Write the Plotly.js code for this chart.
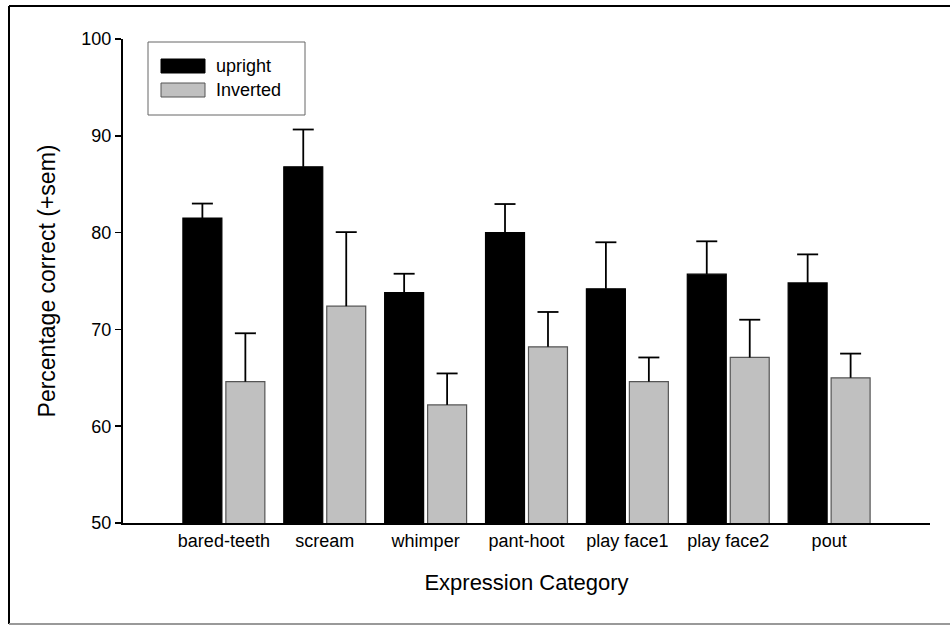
<!DOCTYPE html>
<html>
<head>
<meta charset="utf-8">
<script src="https://cdn.plot.ly/plotly-3.0.1.min.js"></script>
<style>
  html, body { margin: 0; padding: 0; background: #ffffff; }
  #chart { width: 950px; height: 626px; }
</style>
</head>
<body>
<div id="chart"></div>
<script>
// ---- data ----
var categories = ["bared-teeth", "scream", "whimper", "pant-hoot", "play face1", "play face2", "pout"];
var seriesNames = ["upright", "Inverted"];
var upright = [81.5, 86.8, 73.8, 80.0, 74.2, 75.7, 74.8];
var uprightSem = [1.5, 3.85, 1.95, 2.95, 4.8, 3.4, 2.95];
var inverted = [64.6, 72.4, 62.2, 68.2, 64.6, 67.1, 65.0];
var invertedSem = [5.0, 7.65, 3.25, 3.6, 2.5, 3.9, 2.5];
var yTicks = [50, 60, 70, 80, 90, 100];

// ---- layout geometry (pixels) ----
var W = 950, H = 626;
var M = {l: 123, r: 20, t: 39, b: 103};
var pw = W - M.l - M.r, ph = H - M.t - M.b;
function px(x) { return (x - M.l) / pw; }
function py(y) { return (H - M.b - y) / ph; }

var FONT = "Liberation Sans, Arial, Helvetica, sans-serif";
var colors = ["#000000", "#c0c0c0"];
var outlines = ["#000000", "#555555"];
var BARGAP = 0.148, BARGROUPGAP = 0.093;
var nSeries = 2;
var slot = (1 - BARGAP) / nSeries;
var idx = categories.map(function (_, i) { return i; });

function barTrace(i, vals) {
  return {
    type: "bar",
    name: seriesNames[i],
    x: idx,
    y: vals,
    marker: {color: colors[i], line: {color: outlines[i], width: 1.2}},
    showlegend: false,
    hoverinfo: "y"
  };
}

// upward-only error bars (+sem), positioned at the bar centres of each group
function errTraces(i, vals, sem) {
  var off = (i - (nSeries - 1) / 2) * slot;
  var lx = [], ly = [], cx = [], cy = [];
  idx.forEach(function (k) {
    lx.push(k + off, k + off, null);
    ly.push(vals[k], vals[k] + sem[k], null);
    cx.push(k + off);
    cy.push(vals[k] + sem[k]);
  });
  return [
    {type: "scatter", mode: "lines", x: lx, y: ly, line: {color: "#000", width: 1.8},
     showlegend: false, hoverinfo: "skip", cliponaxis: false},
    {type: "scatter", mode: "markers", x: cx, y: cy,
     marker: {symbol: "line-ew", size: 15, line: {color: "#000", width: 1.8}},
     showlegend: false, hoverinfo: "skip", cliponaxis: false}
  ];
}

var data = [barTrace(0, upright), barTrace(1, inverted)]
  .concat(errTraces(0, upright, uprightSem))
  .concat(errTraces(1, inverted, invertedSem));

var shapes = [
  // outer frame
  {type: "line", xref: "paper", yref: "paper", x0: px(9), x1: px(9), y0: py(6), y1: py(624), line: {color: "#000", width: 2}},
  {type: "line", xref: "paper", yref: "paper", x0: px(9), x1: px(952), y0: py(6), y1: py(6), line: {color: "#000", width: 2}},
  {type: "line", xref: "paper", yref: "paper", x0: px(9), x1: px(952), y0: py(624), y1: py(624), line: {color: "#999", width: 2}},
  // legend box
  {type: "rect", xref: "paper", yref: "paper", x0: px(148), x1: px(305), y0: py(42), y1: py(115), line: {color: "#666", width: 1}, fillcolor: "#fff"},
  {type: "rect", xref: "paper", yref: "paper", x0: px(161), x1: px(205), y0: py(59), y1: py(73), line: {color: outlines[0], width: 1}, fillcolor: colors[0]},
  {type: "rect", xref: "paper", yref: "paper", x0: px(161), x1: px(205), y0: py(83), y1: py(97), line: {color: outlines[1], width: 1}, fillcolor: colors[1]}
];

var annotations = [
  {xref: "paper", yref: "paper", x: px(214), y: py(66), xanchor: "left", yanchor: "middle", showarrow: false,
   text: seriesNames[0], font: {family: FONT, size: 18, color: "#000"}},
  {xref: "paper", yref: "paper", x: px(214), y: py(90), xanchor: "left", yanchor: "middle", showarrow: false,
   text: seriesNames[1], font: {family: FONT, size: 18, color: "#000"}}
];

var layout = {
  width: W, height: H,
  margin: M,
  paper_bgcolor: "#fff", plot_bgcolor: "#fff",
  font: {family: FONT, size: 18, color: "#000"},
  barmode: "group",
  bargap: BARGAP,
  bargroupgap: BARGROUPGAP,
  showlegend: false,
  xaxis: {
    type: "linear",
    range: [-1, 7],
    tickvals: idx,
    ticktext: categories,
    showline: true, linecolor: "#000", linewidth: 2,
    ticks: "", showgrid: false, zeroline: false,
    tickfont: {family: FONT, size: 18, color: "#000"},
    title: {text: "Expression Category", font: {family: FONT, size: 22, color: "#000"}, standoff: 25},
    automargin: false
  },
  yaxis: {
    range: [50, 100],
    tickvals: yTicks,
    ticktext: yTicks.map(String),
    showline: true, linecolor: "#000", linewidth: 2,
    ticks: "outside", ticklen: 6, tickwidth: 1.5, tickcolor: "#000",
    showgrid: false, zeroline: false,
    tickfont: {family: FONT, size: 18, color: "#000"},
    title: {text: "Percentage correct (+sem)", font: {family: FONT, size: 23, color: "#000"}, standoff: 19},
    automargin: false
  },
  shapes: shapes,
  annotations: annotations
};

Plotly.newPlot("chart", data, layout, {displayModeBar: false, staticPlot: true});
</script>
</body>
</html>
